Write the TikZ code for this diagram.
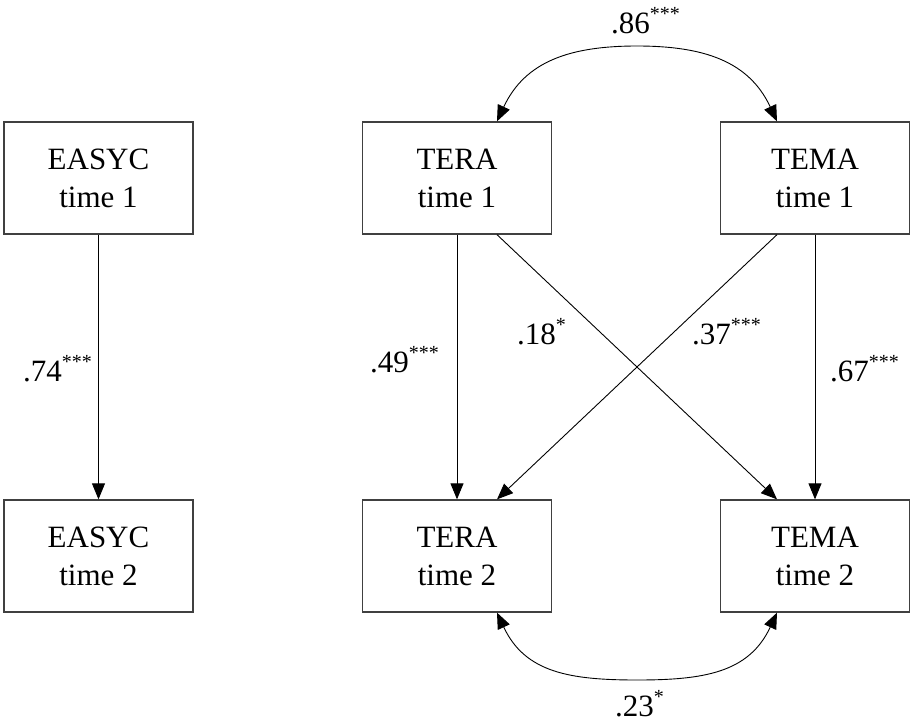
\documentclass[tikz,border=0pt]{standalone}
\usepackage{fontspec}
\setmainfont{Liberation Serif}
\usetikzlibrary{arrows.meta,calc}
\newcommand\sigstars[1]{\raisebox{13pt}{\fontsize{20}{20}\selectfont #1}}
\begin{document}
\begin{tikzpicture}[x=1pt,y=-1pt,
  varbox/.style={draw=black!75,line width=1.3pt,minimum width=189pt,minimum height=112pt,inner sep=0pt,align=center,font=\fontsize{31}{38}\selectfont},
  conn/.style={-{Triangle[length=16pt,width=13pt]},line width=0.9pt},
  dconn/.style={{Triangle[length=16pt,width=13pt]}-{Triangle[length=16pt,width=13pt]},line width=0.9pt},
  coef/.style={anchor=base west,inner sep=0pt,font=\fontsize{31}{38}\selectfont}]
\useasboundingbox (0,0) rectangle (911,723);
% boxes
\node[varbox] (easyc1) at (98.5,178) {EASYC\\time 1};
\node[varbox] (tera1) at (457,178) {TERA\\time 1};
\node[varbox] (tema1) at (815,178) {TEMA\\time 1};
\node[varbox] (easyc2) at (98.5,556) {EASYC\\time 2};
\node[varbox] (tera2) at (457,556) {TERA\\time 2};
\node[varbox] (tema2) at (815,556) {TEMA\\time 2};
% straight paths
\draw[conn] (easyc1.south) -- (easyc2.north);
\draw[conn] (tera1.south) -- (tera2.north);
\draw[conn] (tema1.south) -- (tema2.north);
\draw[conn] ([xshift=40pt]tera1.south) -- ([xshift=-38pt]tema2.north);
\draw[conn] ([xshift=-38pt]tema1.south) -- ([xshift=40pt]tera2.north);
% covariances
\coordinate (toppeak) at (637,46);
\coordinate (botpeak) at (637,680);
\draw[dconn] ([xshift=40pt]tera1.north) .. controls +(28,-60) and +(-67,0) .. (toppeak)
  .. controls +(67,0) and +(-28,-60) .. ([xshift=-38pt]tema1.north);
\draw[dconn] ([xshift=40pt]tera2.south) .. controls +(28,60) and +(-67,0) .. (botpeak)
  .. controls +(67,0) and +(-28,60) .. ([xshift=-38pt]tema2.south);
% coefficients
\node[coef] (l74) at (23,381) {.74\sigstars{***}};
\node[coef] (l49) at (370,372) {.49\sigstars{***}};
\node[coef] (l18) at (517,344) {.18\sigstars{*}};
\node[coef] (l37) at (692,344) {.37\sigstars{***}};
\node[coef] (l67) at (830,381) {.67\sigstars{***}};
\node[coef] (l86) at (611,33) {.86\sigstars{***}};
\node[coef] (l23) at (615,716) {.23\sigstars{*}};
\end{tikzpicture}
\end{document}
